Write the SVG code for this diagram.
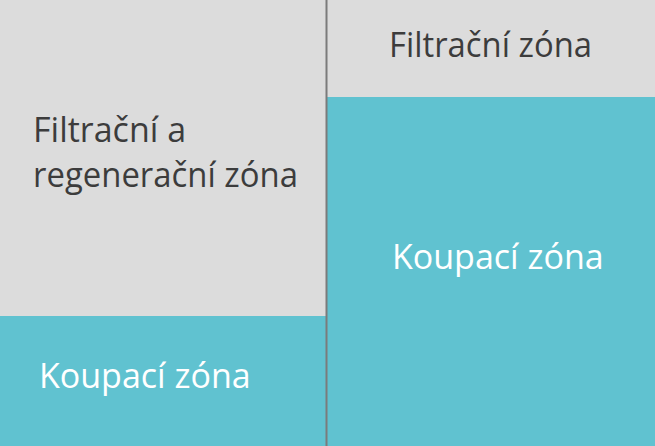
<svg xmlns="http://www.w3.org/2000/svg" width="655" height="446" viewBox="0 0 655 446">
<style>
.gray{fill:#dcdcdc}
.teal{fill:#60c2d0}
.t{font-family:"Open Sans","Liberation Sans",sans-serif;font-size:34px}
.dark{fill:#3c3c3c}
.light{fill:#ffffff}
</style>
<g id="left-filtration">
<rect class="gray" x="0" y="0" width="326" height="316"/>
<text class="t dark" x="33" y="142">Filtrační a</text>
<text class="t dark" x="33" y="187" textLength="265" lengthAdjust="spacingAndGlyphs">regenerační zóna</text>
</g>
<g id="left-swimming">
<rect class="teal" x="0" y="316" width="326" height="130"/>
<text class="t light" x="39" y="388">Koupací zóna</text>
</g>
<g id="right-filtration">
<rect class="gray" x="326" y="0" width="329" height="97"/>
<text class="t dark" x="389" y="57" textLength="203" lengthAdjust="spacingAndGlyphs">Filtrační zóna</text>
</g>
<g id="right-swimming">
<rect class="teal" x="326" y="97" width="329" height="349"/>
<text class="t light" x="392" y="269">Koupací zóna</text>
</g>
<g id="connectors">
<line x1="326.5" y1="0" x2="326.5" y2="446" stroke="#7b7b7b" stroke-width="2"/>
</g>
</svg>
